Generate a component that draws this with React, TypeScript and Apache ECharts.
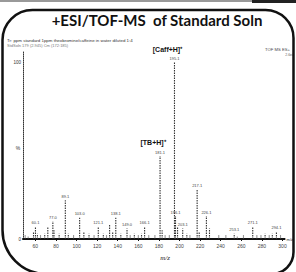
import React, { useEffect, useRef } from "react";
import * as echarts from "echarts";

// m/z axis ticks
const tickValues = [60, 80, 100, 120, 140, 160, 180, 200, 220, 240, 260, 280, 300];

// peaks: m/z, relative intensity (%), m/z label, ion name
const peakMz = [
  50.1, 53.0, 58.2, 60.1, 62.0, 65.0, 69.1, 72.1, 77.0, 78.1, 83.1, 89.1, 92.0, 97.1,
  103.0, 107.1, 112.1, 117.0, 121.1, 126.0, 129.1, 132.1, 135.1, 138.1, 143.0, 149.0,
  152.1, 156.1, 160.0, 163.1, 166.1, 170.1, 176.1, 181.1, 183.1, 186.0, 190.1, 195.1,
  196.1, 198.1, 203.1, 207.1, 210.1, 217.1, 219.1, 226.1, 229.1, 238.1, 245.0, 253.1,
  256.1, 262.1, 271.1, 275.1, 279.1, 283.1, 287.1, 290.1, 294.1, 298.1,
];
const peakIntensity = [
  2, 1.5, 4, 7, 3, 2, 3, 7, 10, 5, 3, 22, 3, 2,
  12, 4, 3, 2, 7, 3, 2, 8, 4, 12, 3, 6,
  2, 3, 2, 3, 7, 2, 2, 47, 5, 2, 2, 100,
  13, 7, 6, 3, 2, 28, 4, 13, 6, 2, 2, 3,
  1.5, 2, 7, 2, 2, 3, 2, 3, 4, 2,
];
const peakLabel = [
  "", "", "", "60.1", "", "", "", "", "77.0", "", "", "89.1", "", "",
  "103.0", "", "", "", "121.1", "", "", "", "", "138.1", "", "149.0",
  "", "", "", "", "166.1", "", "", "181.1", "", "", "", "195.1",
  "196.1", "", "203.1", "", "", "217.1", "", "226.1", "", "", "", "253.1",
  "", "", "271.1", "", "", "", "", "", "294.1", "",
];
const ionName: Record<number, string> = { 33: "[TB+H]⁺", 37: "[Caff+H]⁺" };

const yLabels = ["0", "100"];

export default function App() {
  const ref = useRef<HTMLDivElement>(null);
  useEffect(() => {
    if (!ref.current) return;
    const chart = echarts.init(ref.current, null, { renderer: "svg" });
    const data = peakMz.map((m, i) => [m, peakIntensity[i]]);
    chart.setOption({
      animation: false,
      backgroundColor: "#fff",
      grid: { left: 23, right: 10, top: 52, bottom: 33 },
      xAxis: {
        type: "value",
        min: 48,
        max: 302,
        name: "m/z",
        nameLocation: "end",
        nameGap: 2,
        nameTextStyle: { fontSize: 4, color: "#333", fontFamily: "Liberation Sans" },
        splitLine: { show: false },
        axisLine: { show: true, onZero: false, lineStyle: { color: "#111", width: 2 } },
        axisTick: { show: true, customValues: tickValues, length: 2, lineStyle: { color: "#111" } },
        axisLabel: {
          customValues: tickValues,
          fontSize: 5,
          color: "#444",
          margin: 4,
          fontFamily: "Liberation Sans",
        },
      },
      yAxis: {
        type: "value",
        min: 0,
        max: 106,
        interval: 100,
        splitLine: { show: false },
        axisLine: { show: true, lineStyle: { color: "#333", width: 1, type: "dotted" } },
        axisTick: { show: false },
        axisLabel: {
          showMaxLabel: false,
          fontSize: 4.5,
          color: "#333",
          margin: 2,
          fontFamily: "Liberation Sans",
          formatter: (v: number) => (yLabels.includes(String(v)) ? String(v) : ""),
        },
      },
      series: [
        {
          type: "custom",
          data,
          renderItem: (params: any, api: any) => {
            const m = api.value(0);
            const v = api.value(1);
            const p0 = api.coord([m, 0]);
            const p1 = api.coord([m, v]);
            const children: any[] = [
              {
                type: "line",
                shape: { x1: p0[0], y1: p0[1], x2: p1[0], y2: p1[1] },
                style: { stroke: "#333", lineWidth: 1.1, lineDash: [1.5, 1] },
              },
            ];
            const lab = peakLabel[params.dataIndex];
            if (lab) {
              children.push({
                type: "text",
                x: p1[0],
                y: p1[1] - 2,
                style: {
                  text: lab,
                  fontSize: 4,
                  fontFamily: "Liberation Sans",
                  fill: "#444",
                  align: "center",
                  verticalAlign: "bottom",
                },
              });
            }
            const ion = ionName[params.dataIndex];
            if (ion) {
              children.push({
                type: "text",
                x: p1[0] - 7,
                y: p1[1] - 10,
                style: {
                  text: ion,
                  fontSize: 7,
                  fontWeight: "bold",
                  fontFamily: "Liberation Sans",
                  fill: "#111",
                  align: "center",
                  verticalAlign: "bottom",
                },
              });
            }
            return { type: "group", children };
          },
          z: 5,
        },
      ],
      graphic: [
        { type: "rect", left: 0, top: 0, shape: { width: 296, height: 2 }, style: { fill: "#999" } },
        { type: "rect", left: 252, top: 0, shape: { width: 44, height: 3 }, style: { fill: "#222" } },
        {
          type: "rect",
          shape: { x: 2.5, y: 10, width: 291, height: 264, r: [30, 28, 22, 44] },
          style: { fill: "none", stroke: "#111", lineWidth: 2.5 },
          z: 10,
        },
        {
          type: "text",
          x: 157,
          y: 20,
          style: {
            text: "+ESI/TOF-MS  of Standard Soln",
            fontSize: 15,
            fontWeight: "bold",
            fontFamily: "Lato",
            fill: "#111",
            align: "center",
            verticalAlign: "middle",
          },
        },
        {
          type: "text",
          x: 7,
          y: 40,
          style: {
            text: "Tr: ppm standard 1ppm theobromine/caffeine in water diluted 1:4",
            fontSize: 4.4,
            fontFamily: "Liberation Sans",
            fill: "#333",
            verticalAlign: "middle",
          },
        },
        {
          type: "text",
          x: 7,
          y: 45,
          style: {
            text: "StdSoln 179 (2.945) Cm (172:185)",
            fontSize: 4,
            fontFamily: "Liberation Sans",
            fill: "#777",
            verticalAlign: "middle",
          },
        },
        {
          type: "text",
          x: 290,
          y: 49,
          style: {
            text: "TOF MS ES+",
            fontSize: 4.2,
            fontFamily: "Liberation Sans",
            fill: "#444",
            align: "right",
            verticalAlign: "middle",
          },
        },
        {
          type: "text",
          x: 294,
          y: 55,
          style: {
            text: "2.6e4",
            fontSize: 3.5,
            fontFamily: "Liberation Sans",
            fill: "#666",
            align: "right",
            verticalAlign: "middle",
          },
        },
        {
          type: "text",
          x: 18,
          y: 148,
          style: {
            text: "%",
            fontSize: 5,
            fontFamily: "Liberation Sans",
            fill: "#333",
            align: "center",
            verticalAlign: "middle",
          },
        },
        {
          type: "text",
          x: 165,
          y: 258,
          style: {
            text: "m/z",
            fontSize: 7,
            fontStyle: "italic",
            fontFamily: "Liberation Serif",
            fill: "#222",
            align: "center",
            verticalAlign: "middle",
          },
        },
      ],
    });
    return () => chart.dispose();
  }, []);
  return (
    <div
      ref={ref}
      style={{ position: "fixed", left: 0, top: 0, width: 296, height: 272, background: "#fff" }}
    />
  );
}
